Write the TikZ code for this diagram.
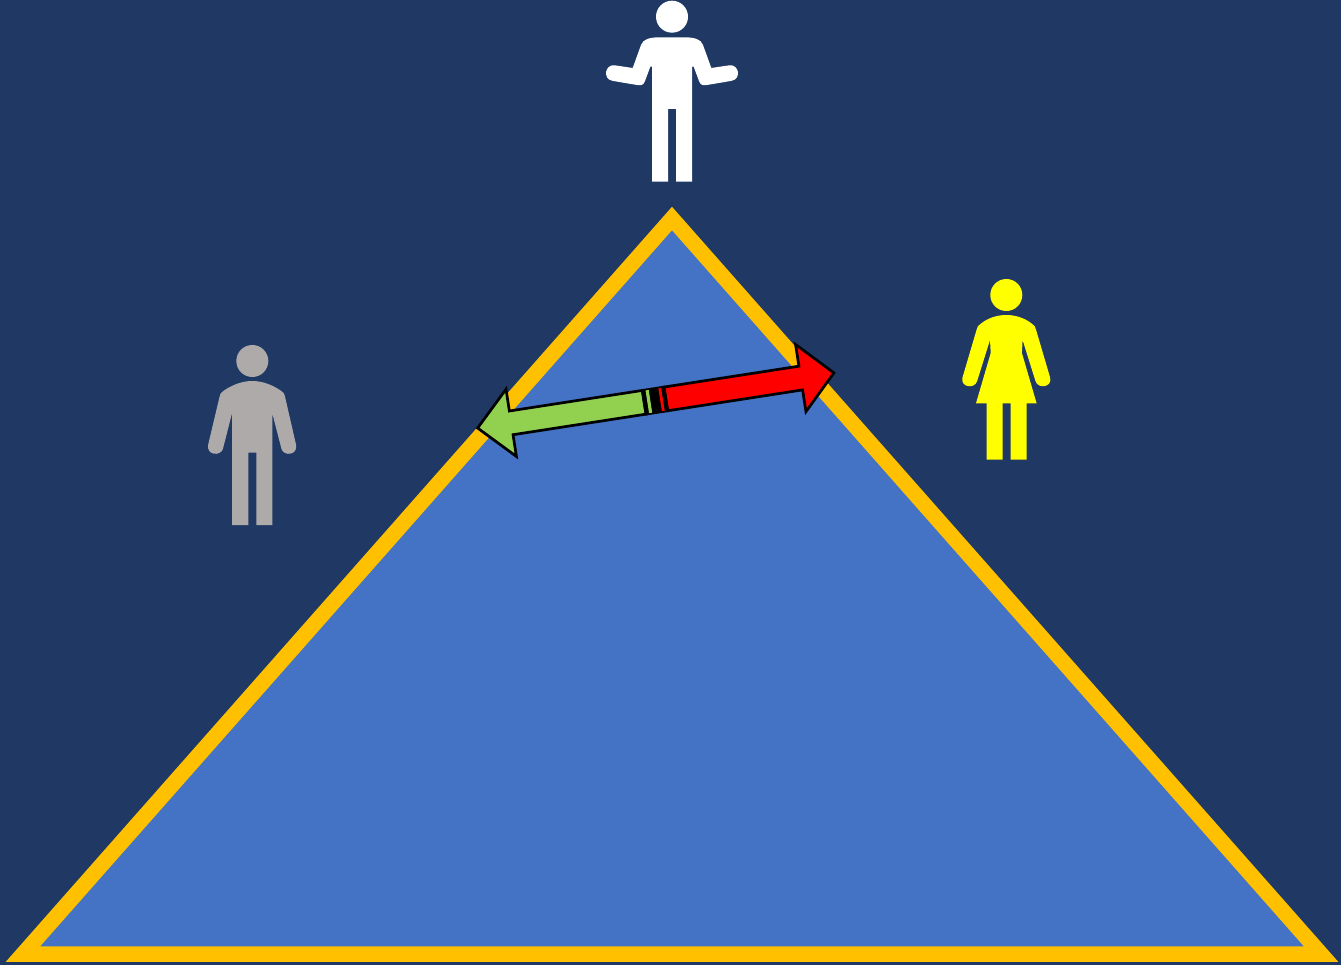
\documentclass[tikz,border=0pt]{standalone}
\definecolor{bgnavy}{HTML}{1F3864}
\definecolor{triblue}{HTML}{4472C4}
\definecolor{trigold}{HTML}{FFC000}
\definecolor{arrgreen}{HTML}{92D050}
\definecolor{arrred}{HTML}{FF0000}
\definecolor{figgray}{HTML}{AEAAAA}
\definecolor{figyellow}{HTML}{FFFF00}
\tikzset{
  pyramid/.style={fill=triblue,draw=trigold,line width=15.5pt,line join=miter},
  arrowshape/.style={draw=black,line width=2.7pt,line join=miter,miter limit=10},
}
\begin{document}
\begin{tikzpicture}[x=1pt,y=-1pt]
\useasboundingbox (0,0) rectangle (1341,965);
\fill[bgnavy] (0,0) rectangle (1341,965);
% pyramid
\draw[pyramid] (672,218.5) -- (1321,954) -- (23,954) -- cycle;
% white figure (top)
\fill[white] (672,16.7) circle[radius=16];
\fill[white] (652,181.7) -- (652,66.7) -- (650.3,66.7) -- (645,81)
  .. controls (643.3,85.5) and (641,85.5) .. (637,85) -- (612.7,80.9)
  .. controls (602.2,79.1) and (604.8,63.6) .. (615.3,65.4)
  -- (632.7,68) -- (641,45) .. controls (643,39) and (650,37.3) .. (660,37.3)
  -- (684,37.3) .. controls (694,37.3) and (701,39) .. (703,45)
  -- (711.3,68) -- (728.7,65.4) .. controls (739.2,63.6) and (741.8,79.1) .. (731.3,80.9)
  -- (707,85) .. controls (703,85.5) and (700.7,85.5) .. (699,81)
  -- (693.7,66.7) -- (692,66.7) -- (692,181.7) -- (676,181.7) -- (676,109)
  -- (668,109) -- (668,181.7) -- cycle;
% gray figure (left)
\fill[figgray] (252.3,361) circle[radius=16];
\fill[figgray] (232,525) -- (232,413.3) -- (222.9,449)
  .. controls (220.5,456.5) and (206,455.5) .. (208.2,444.5)
  -- (219.5,397) .. controls (220.5,393) and (221,392.5) .. (224,390.5)
  .. controls (232,385) and (242,381) .. (252.3,381)
  .. controls (262.6,381) and (272.6,385) .. (280.6,390.5)
  .. controls (283.6,392.5) and (284.1,393) .. (285.1,397)
  -- (296,444.5) .. controls (298.2,455.5) and (283.7,456.5) .. (281.5,449)
  -- (272.3,413.3) -- (272.3,525) -- (256.3,525) -- (256.3,452.7)
  -- (248.3,452.7) -- (248.3,525) -- cycle;
% yellow figure (right)
\fill[figyellow] (1006.3,295) circle[radius=16];
\fill[figyellow] (976,403.3) -- (990.7,353) -- (990,340) -- (977,381.5)
  .. controls (974,389.5) and (960,387) .. (962.5,377.5)
  -- (976.5,330) .. controls (977.3,326.5) and (978,325.5) .. (981,323.5)
  .. controls (988,318) and (997,315) .. (1006.3,315)
  .. controls (1015.6,315) and (1024.6,318) .. (1031.6,323.5)
  .. controls (1034.6,325.5) and (1035.3,326.5) .. (1036.1,330)
  -- (1050.1,377.5) .. controls (1052.6,387) and (1038.6,389.5) .. (1035.6,381.5)
  -- (1022.6,340) -- (1021.9,353) -- (1036.6,403.3) -- (1026.7,403.3)
  -- (1026.7,459.7) -- (1010.7,459.7) -- (1010.7,403.3) -- (1002.7,403.3)
  -- (1002.7,459.7) -- (986.7,459.7) -- (986.7,403.3) -- cycle;
% opposing arrows
\begin{scope}[shift={(655,400.6)},rotate=8.8]
  \filldraw[arrowshape,fill=arrred] (11,-12) -- (147.5,-12) -- (147.5,-34) -- (181,0)
     -- (147.5,34) -- (147.5,12) -- (11,12) -- cycle;
  \filldraw[arrowshape,fill=arrgreen] (-11,-12) -- (-145.5,-12) -- (-145.5,-34) -- (-179.5,0)
     -- (-145.5,34) -- (-145.5,12) -- (-11,12) -- cycle;
  \fill[black] (-12.2,-13.3) rectangle (12.2,13.3);
  \fill[arrgreen] (-7.8,-11.5) rectangle (-4.6,11.5);
  \fill[arrred] (5.2,-11.5) rectangle (8,11.5);
\end{scope}
\end{tikzpicture}
\end{document}
